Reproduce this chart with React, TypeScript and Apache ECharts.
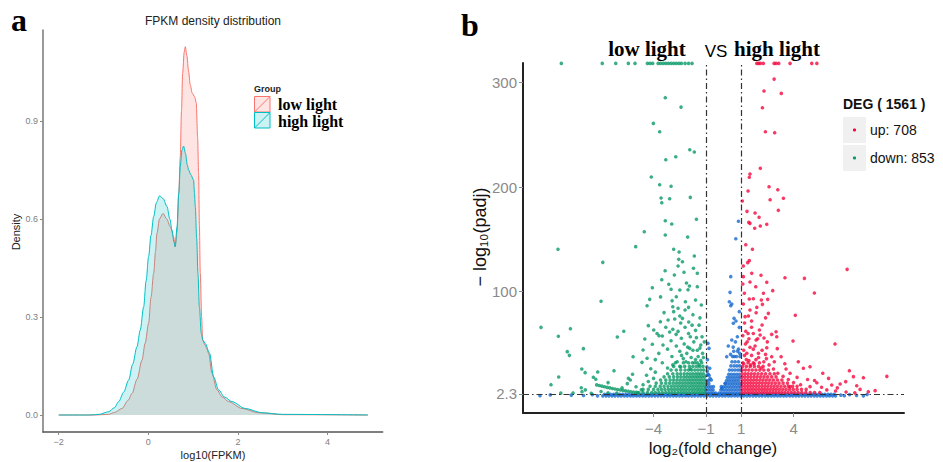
import React, { useEffect, useRef } from "react";
import * as echarts from "echarts";

// ---------- Panel a: FPKM density ----------
const lowLight: [number, number][] = [
  [-2, 0], [-1.2, 0], [-0.885, 0.002], [-0.75, 0.008], [-0.587, 0.02], [-0.45, 0.045], [-0.364, 0.066],
  [-0.25, 0.11], [-0.141, 0.168], [-0.07, 0.22], [0.007, 0.281], [0.06, 0.36], [0.12, 0.434], [0.16, 0.5],
  [0.193, 0.556], [0.25, 0.6], [0.327, 0.617], [0.41, 0.6], [0.49, 0.576], [0.565, 0.546], [0.6, 0.515],
  [0.64, 0.56], [0.68, 0.68], [0.713, 0.79], [0.74, 0.93], [0.766, 1.046], [0.8, 1.11], [0.825, 1.127],
  [0.86, 1.1], [0.9, 1.05], [0.936, 1.01], [0.98, 0.985], [1.033, 0.974], [1.07, 0.955], [1.1, 0.85],
  [1.122, 0.74], [1.14, 0.58], [1.159, 0.434], [1.19, 0.3], [1.211, 0.23], [1.26, 0.215], [1.3, 0.205],
  [1.345, 0.189], [1.42, 0.128], [1.53, 0.077], [1.65, 0.055], [1.79, 0.041], [2.09, 0.02], [2.46, 0.007],
  [3.0, 0.001], [4.9, 0],
];
const highLight: [number, number][] = [
  [-2, 0], [-1.3, 0], [-1.1, 0.002], [-0.885, 0.01], [-0.76, 0.022], [-0.66, 0.041], [-0.55, 0.07],
  [-0.438, 0.107], [-0.35, 0.155], [-0.253, 0.209], [-0.18, 0.26], [-0.104, 0.331], [-0.05, 0.41],
  [0.007, 0.485], [0.06, 0.55], [0.119, 0.607], [0.18, 0.65], [0.253, 0.671], [0.33, 0.662], [0.417, 0.638],
  [0.48, 0.6], [0.528, 0.566], [0.57, 0.53], [0.6, 0.515], [0.64, 0.576], [0.68, 0.68], [0.713, 0.76],
  [0.75, 0.81], [0.788, 0.823], [0.83, 0.8], [0.87, 0.765], [0.899, 0.75], [0.95, 0.735], [1.01, 0.719],
  [1.03, 0.68], [1.048, 0.638], [1.08, 0.54], [1.107, 0.434], [1.14, 0.33], [1.182, 0.25], [1.22, 0.228],
  [1.27, 0.219], [1.367, 0.189], [1.457, 0.117], [1.568, 0.077], [1.7, 0.055], [1.866, 0.041], [2.163, 0.02],
  [2.535, 0.007], [3.0, 0.002], [4.9, 0],
];
const densityXTicks = [-2, 0, 2, 4];
const densityYTicks = [0, 0.3, 0.6, 0.9];

// ---------- Panel b: volcano ----------
const volcanoXTicks = [-4, -1, 1, 4];
const volcanoYTicks = [2.3, 100, 200, 300];
const padjCap = 318.5;

const downTopX = [-9.27, -6.93, -6.16, -5.44, -5.06, -4.35, -4.2, -4.05, -3.74, -3.6, -3.45, -3.3, -3.15, -3.0,
  -2.85, -2.7, -2.55, -2.41, -2.2, -2.0, -1.8];
const downScatter: [number, number][] = [
  [-3.33, 285.7], [-2.43, 276.7], [-4.01, 261.1], [-3.65, 253.1], [-1.93, 235.9], [-1.67, 233.7], [-2.73, 229.2],
  [-3.3, 226.3], [-4.13, 209.8], [-3.65, 202.4], [-3.0, 200.9], [-3.57, 189.7], [-3.08, 189.0], [-1.9, 190.3],
  [-3.53, 185.2], [-3.33, 167.9], [-2.96, 164.8], [-1.55, 169.3], [-4.53, 157.4], [-3.33, 154.3], [-2.05, 152.3],
  [-9.46, 140.6], [-5.02, 143.1], [-6.9, 128.1], [-2.85, 140.6], [-2.54, 138.0], [-1.67, 134.2], [-2.56, 131.0],
  [-2.35, 128.7], [-2.6, 124.6], [-1.72, 122.4], [-3.34, 120.1], [-2.26, 118.6], [-1.5, 117.6], [-2.81, 116.0],
  [-3.53, 111.5], [-2.12, 108.3], [-3.13, 107.1], [-1.95, 105.5], [-1.5, 104.8], [-4.07, 103.8], [-2.03, 101.9],
  [-3.0, 102.3], [-2.5, 101.6], [-7.0, 90.8], [-4.22, 92.7], [-4.37, 86.6], [-2.7, 95.2], [-2.94, 91.4],
  [-2.18, 90.4], [-1.27, 87.3], [-2.9, 85.6], [-2.6, 84.1], [-2.2, 82.5], [-2.85, 80.9], [-2.5, 76.7],
  [-3.17, 72.9], [-2.79, 73.9], [-2.35, 74.5], [-3.61, 71.3], [-1.99, 71.0], [-10.43, 65.9], [-8.75, 64.6],
  [-4.3, 67.5], [-5.7, 62.1], [-3.08, 61.4], [-3.99, 63.3], [-9.44, 57.3], [-6.07, 56.6], [-3.69, 57.9],
  [-3.5, 57.6], [-2.71, 59.2], [-4.5, 54.7], [-2.41, 55.4], [-1.9, 56.9], [-1.23, 56.9], [-8.01, 45.5],
  [-8.93, 42.6], [-8.81, 39.1], [-5.17, 37.8], [-4.6, 44.2], [-4.07, 49.7], [-3.46, 49.0], [-2.7, 48.0],
  [-1.93, 45.8], [-4.37, 36.3], [-4.66, 32.4], [-8.1, 26.0], [-7.91, 22.5], [-7.19, 23.2], [-6.26, 24.4],
  [-4.16, 26.3], [-9.42, 18.4], [-9.86, 11.0], [-7.44, 18.1], [-7.3, 16.2], [-5.44, 17.1], [-5.33, 15.5],
  [-8.13, 8.1], [-8.09, 4.3], [-7.56, 2.8],
  [-3.3, 66], [-2.9, 64], [-2.2, 66], [-1.6, 63], [-1.4, 68], [-3.8, 60], [-2.0, 60], [-1.7, 52], [-2.25, 50],
  [-3.0, 53], [-3.2, 45], [-2.5, 43], [-2.1, 41], [-1.5, 44], [-1.3, 49], [-3.7, 41], [-3.9, 35], [-2.95, 38],
  [-2.3, 36], [-1.85, 37], [-1.45, 38], [-1.2, 41], [-3.5, 32], [-2.65, 33], [-1.65, 32], [-1.3, 34],
  [-7.9, 6], [-7.0, 4.5], [-6.6, 3.2], [-6.1, 3.0], [-5.8, 8], [-5.5, 12], [-5.0, 9], [-4.7, 6], [-4.6, 11],
  [-4.3, 14], [-4.0, 17], [-4.4, 20], [-3.9, 23], [-5.2, 21], [-6.6, 13], [-8.6, 3.1], [-9.3, 2.9],
  [-2.05, 47], [-1.75, 44], [-1.35, 46], [-2.4, 39], [-1.6, 35], [-1.15, 37], [-2.9, 30], [-2.45, 28],
  [-1.4, 30], [-3.2, 27], [-1.9, 26], [-2.15, 33], [-1.1, 52], [-1.55, 56], [-2.6, 62], [-1.8, 68], [-2.45, 70],
  [-1.35, 75], [-1.75, 78], [-3.4, 80], [-2.0, 85], [-1.6, 92], [-3.6, 95],
];
const downArc: [number, number][] = [
  [-7.25, 10.8], [-7.1, 10.2], [-6.95, 9.6], [-6.8, 9.0], [-6.65, 8.4], [-6.5, 7.9], [-6.35, 7.4], [-6.2, 6.9],
  [-6.05, 6.4], [-5.9, 5.9], [-5.75, 5.5], [-5.6, 5.1], [-5.45, 4.7], [-5.3, 4.3], [-5.15, 4.0], [-5.0, 3.6],
  [-4.85, 3.3],
];
const downDenseRows: [number, number[]][] = [
  [3.5, [-4.9, -4.6, -4.35, -4.1, -3.9, -3.7, -3.5, -3.3, -3.12, -2.95, -2.78, -2.6, -2.44, -2.28, -2.12, -1.96, -1.8, -1.65, -1.5, -1.36, -1.22, -1.08]],
  [6.5, [-4.6, -4.3, -4.0, -3.75, -3.55, -3.35, -3.15, -2.97, -2.8, -2.63, -2.46, -2.3, -2.14, -1.98, -1.82, -1.67, -1.52, -1.38, -1.24, -1.09]],
  [9.5, [-4.2, -3.9, -3.62, -3.4, -3.18, -2.98, -2.8, -2.62, -2.45, -2.29, -2.13, -1.97, -1.82, -1.67, -1.52, -1.38, -1.23, -1.08]],
  [12.5, [-3.85, -3.55, -3.3, -3.08, -2.88, -2.7, -2.53, -2.36, -2.2, -2.04, -1.88, -1.73, -1.58, -1.43, -1.29, -1.15]],
  [15.5, [-3.6, -3.3, -3.05, -2.85, -2.66, -2.48, -2.31, -2.15, -1.99, -1.84, -1.69, -1.54, -1.4, -1.26, -1.1]],
  [18.5, [-3.4, -3.1, -2.85, -2.63, -2.44, -2.26, -2.1, -1.94, -1.79, -1.64, -1.5, -1.36, -1.22, -1.08]],
  [21.5, [-3.2, -2.9, -2.65, -2.45, -2.25, -2.07, -1.9, -1.74, -1.58, -1.44, -1.3, -1.15]],
  [25, [-3.0, -2.7, -2.45, -2.2, -2.0, -1.82, -1.64, -1.47, -1.3, -1.14]],
  [28.5, [-2.85, -2.5, -2.22, -1.95, -1.75, -1.55, -1.37, -1.18]],
  [32, [-2.75, -2.3, -2.0, -1.78, -1.5, -1.25]],
];

const upTopX = [1.9, 2.0, 2.1, 2.27, 2.89, 3.0, 3.15, 3.8, 5.04, 5.33];
const upScatter: [number, number][] = [
  [2.89, 303.5], [2.31, 292.1], [3.3, 289.8], [2.22, 276.1], [2.39, 253.1], [2.92, 252.2], [2.1, 218.1],
  [1.51, 212.6], [1.47, 209.5], [2.6, 200.5], [3.1, 197.6], [1.4, 196.4], [2.66, 188.0], [3.42, 189.4],
  [1.07, 186.8], [3.13, 177.9], [1.34, 176.9], [1.8, 175.3], [2.03, 171.2], [1.44, 166.4], [1.51, 165.4],
  [2.1, 162.9], [2.47, 164.5], [1.78, 160.7],
  [1.27, 145.0], [1.65, 140.6], [1.47, 129.7], [1.38, 127.8], [1.13, 124.6], [1.61, 117.6], [2.14, 115.7],
  [3.51, 113.4], [4.62, 112.8], [7.06, 121.4], [1.13, 114.4], [1.51, 109.3], [2.47, 109.0], [1.84, 104.8],
  [1.1, 107.4], [2.81, 101.0], [5.19, 98.8], [1.19, 98.5], [2.28, 98.5], [1.47, 93.0], [1.7, 93.3],
  [2.16, 92.1], [2.52, 92.7], [1.13, 88.2], [2.22, 87.9], [1.51, 82.5], [1.86, 79.9], [2.56, 79.3],
  [4.1, 77.4], [1.23, 76.1], [1.42, 76.7], [2.2, 68.1], [3.0, 61.7], [2.05, 63.3], [1.27, 62.1], [2.75, 59.2],
  [2.09, 58.6], [2.31, 55.7], [3.04, 56.9], [1.86, 53.8], [3.97, 52.8], [6.37, 50.0], [1.51, 46.8],
  [2.47, 46.4], [3.07, 45.5], [1.33, 41.1], [1.99, 41.1], [2.75, 37.8], [3.29, 37.8], [4.27, 33.0],
  [4.94, 28.2], [3.57, 26.0], [4.56, 26.7], [5.67, 21.9], [7.19, 24.4], [9.33, 19.0], [7.99, 17.7],
  [7.42, 18.7], [6.98, 13.9], [6.66, 11.7], [6.18, 10.7], [7.61, 10.0], [8.66, 5.3], [8.27, 4.3], [5.33, 12.9],
  [4.94, 9.1], [3.8, 9.1],
  [1.2, 70], [1.6, 66], [1.1, 58], [1.45, 55], [1.7, 60], [2.5, 52], [1.25, 50], [1.8, 48], [2.2, 44],
  [1.15, 44], [1.6, 39], [2.4, 40], [1.3, 35], [1.85, 35], [2.3, 33], [2.9, 33], [3.5, 31], [1.15, 31],
  [1.55, 30], [3.8, 22], [4.2, 18], [4.8, 16], [5.2, 15], [6.0, 17], [5.9, 6], [6.4, 5], [7.0, 4], [7.5, 3.2],
  [7.8, 6.5], [5.6, 8.5], [6.5, 8],
  [1.35, 52], [1.7, 45], [2.0, 37], [2.6, 30], [1.2, 39], [1.45, 34], [2.15, 27], [2.85, 26], [3.1, 22],
  [3.4, 19], [3.7, 16], [4.0, 13], [4.4, 11], [1.75, 31], [2.45, 36], [1.95, 55], [1.4, 60], [1.6, 72],
  [2.4, 75], [1.9, 85],
];
const upDenseRows: [number, number[]][] = [
  [3.5, [1.06, 1.22, 1.38, 1.54, 1.7, 1.86, 2.02, 2.18, 2.34, 2.5, 2.66, 2.82, 2.98, 3.15, 3.32, 3.5, 3.68, 3.87, 4.06, 4.26, 4.47, 4.7, 4.95, 5.2, 5.5]],
  [6.5, [1.06, 1.22, 1.38, 1.54, 1.7, 1.86, 2.02, 2.18, 2.34, 2.5, 2.67, 2.84, 3.01, 3.19, 3.38, 3.57, 3.77, 3.98, 4.2, 4.45, 4.72]],
  [9.5, [1.06, 1.22, 1.38, 1.54, 1.7, 1.86, 2.02, 2.19, 2.36, 2.53, 2.71, 2.89, 3.08, 3.28, 3.49, 3.7, 3.95, 4.2]],
  [12.5, [1.06, 1.22, 1.38, 1.54, 1.7, 1.87, 2.04, 2.21, 2.39, 2.57, 2.76, 2.96, 3.17, 3.4, 3.65]],
  [15.5, [1.06, 1.22, 1.38, 1.55, 1.72, 1.89, 2.07, 2.25, 2.44, 2.64, 2.85, 3.08, 3.33]],
  [18.5, [1.06, 1.22, 1.39, 1.56, 1.74, 1.92, 2.11, 2.31, 2.52, 2.75, 3.0]],
  [21.5, [1.06, 1.23, 1.4, 1.58, 1.77, 1.97, 2.18, 2.4, 2.65, 2.9]],
  [25, [1.07, 1.25, 1.44, 1.64, 1.85, 2.07, 2.3, 2.56]],
  [28.5, [1.08, 1.3, 1.52, 1.76, 2.0, 2.26]],
  [32, [1.1, 1.4, 1.7, 2.05]],
];

const nsScatter: [number, number][] = [
  [0.85, 167.4], [0.7, 150.7], [0.41, 114.4], [0.37, 99.4], [0.33, 90.4], [0.47, 88.2], [0.41, 86.6],
  [0.9, 80.9], [0.6, 74.5], [0.71, 72.0], [0.56, 69.8], [0.9, 65.9], [0.79, 56.9], [0.47, 53.8], [0.68, 52],
  [0.27, 48.0], [0.55, 47], [0.85, 45], [0.18, 37.8], [0.4, 40], [0.62, 38], [0.92, 41], [-0.89, 50.6],
  [-0.83, 45.8], [-0.79, 26.7], [-0.7, 15.5], [-0.77, 17.1], [-0.58, 9.1], [0.09, 12.3], [-0.1, 7.6],
  [-0.13, 9.1], [-0.92, 35], [-0.95, 28], [-0.88, 21],
  [-10.49, 0.5], [-9.9, 1.2], [-8.7, 1.0], [-8.0, 0.6], [-7.5, 1.5], [-7.2, 0.3], [6.7, 1.0], [6.9, 0.4],
  [7.2, 1.5], [7.6, 0.8], [7.99, 0.3], [8.2, 1.6],
];
const nsDenseRows: [number, number[]][] = [
  [3, [-1.0, -0.86, -0.72, -0.58, -0.45, -0.25, -0.1, 0.05, 0.2, 0.35, 0.5, 0.65, 0.8, 0.95]],
  [6, [-1.0, -0.86, -0.72, -0.6, -0.15, 0.0, 0.15, 0.3, 0.45, 0.6, 0.75, 0.9]],
  [9, [-0.99, -0.85, -0.72, 0.0, 0.13, 0.27, 0.41, 0.55, 0.69, 0.83, 0.96]],
  [12, [-0.98, -0.84, 0.1, 0.24, 0.38, 0.52, 0.66, 0.8, 0.94]],
  [15, [-0.97, -0.84, 0.17, 0.31, 0.45, 0.59, 0.73, 0.87]],
  [18, [0.22, 0.37, 0.52, 0.67, 0.82, 0.96]],
  [20, [-0.95, -0.83]],
  [21, [0.3, 0.45, 0.6, 0.75, 0.9]],
  [24, [-0.93]],
  [25, [0.34, 0.5, 0.66, 0.82, 0.96]],
  [29, [0.42, 0.6, 0.76, 0.92]],
  [33, [0.48, 0.66, 0.85]],
  [38, [0.52, 0.74, 0.94]],
  [43, [0.58, 0.8]],
  [0.3, [-6.9, -6.72, -6.55, -6.37, -6.2, -6.02, -5.85, -5.67, -5.5, -5.32, -5.15, -4.97, -4.8, -4.62, -4.45, -4.27, -4.1, -3.92, -3.75, -3.57, -3.4, -3.22, -3.05, -2.87, -2.7, -2.52, -2.35, -2.17, -2.0, -1.82, -1.65, -1.47, -1.3, -1.12, -0.95, -0.77, -0.6, -0.42, -0.25, -0.07, 0.1, 0.28, 0.45, 0.63, 0.8, 0.98, 1.15, 1.33, 1.5, 1.68, 1.85, 2.03, 2.2, 2.38, 2.55, 2.73, 2.9, 3.08, 3.25, 3.43, 3.6, 3.78, 3.95, 4.13, 4.3, 4.48, 4.65, 4.83, 5.0, 5.18, 5.35, 5.53, 5.7, 5.88, 6.05, 6.23, 6.4]],
  [1.9, [-6.8, -6.63, -6.46, -6.28, -6.11, -5.93, -5.76, -5.58, -5.41, -5.23, -5.06, -4.88, -4.71, -4.53, -4.36, -4.18, -4.01, -3.83, -3.66, -3.48, -3.31, -3.13, -2.96, -2.78, -2.61, -2.43, -2.26, -2.08, -1.91, -1.73, -1.56, -1.38, -1.21, -1.03, -0.86, -0.68, -0.51, -0.33, -0.16, 0.02, 0.19, 0.37, 0.54, 0.72, 0.89, 1.07, 1.24, 1.42, 1.59, 1.77, 1.94, 2.12, 2.29, 2.47, 2.64, 2.82, 2.99, 3.17, 3.34, 3.52, 3.69, 3.87, 4.04, 4.22, 4.39, 4.57, 4.74, 4.92, 5.09, 5.27, 5.44, 5.62, 5.79, 5.97, 6.14, 6.32]],
];

const upCount = 708;
const downCount = 853;

const SANS = '"Liberation Sans", Arial, sans-serif';
const SERIF = '"Liberation Serif", "Times New Roman", serif';
const RED = "#F8766D";
const CYAN = "#00BFC4";
const UP = "#f5093f";
const DOWN = "#0a9a68";
const NS = "#1769d0";

function rowsToPts(rows: [number, number[]][]): [number, number][] {
  const out: [number, number][] = [];
  rows.forEach(([y, xs]) => xs.forEach((x) => out.push([x, y])));
  return out;
}
const fmtMinus = (v: number) => (v < 0 ? "\u2212" + Math.abs(v) : String(v));

function buildOption(): any {
  const downPts = [...downTopX.map((x) => [x, padjCap]), ...downScatter, ...downArc, ...rowsToPts(downDenseRows)];
  const upPts = [...upTopX.map((x) => [x, padjCap]), ...upScatter, ...rowsToPts(upDenseRows)];
  const nsPts = [...nsScatter, ...rowsToPts(nsDenseRows)];
  const dash = [6, 3, 1.5, 3];
  const ms = 3.6;
  return {
    animation: false,
    textStyle: { fontFamily: SANS },
    grid: [
      { left: 43, top: 30, width: 339.7, height: 402 },
      { left: 523, top: 63, width: 381, height: 350 },
    ],
    xAxis: [
      {
        gridIndex: 0, type: "value", min: -2.35, max: 5.23,
        splitLine: { show: false },
        axisLine: { onZero: false, lineStyle: { color: "#555", width: 1.5 } },
        axisTick: { customValues: densityXTicks, length: 3, lineStyle: { color: "#888" } },
        axisLabel: { customValues: densityXTicks, formatter: fmtMinus, fontSize: 9, color: "#808080", margin: 5, fontFamily: SANS },
      },
      {
        gridIndex: 1, type: "value", min: -11.46, max: 10.31,
        splitLine: { show: false },
        axisLine: { onZero: false, lineStyle: { color: "#222", width: 2 } },
        axisTick: { customValues: volcanoXTicks, length: 4, lineStyle: { color: "#8a8a8a" } },
        axisLabel: { customValues: volcanoXTicks, formatter: fmtMinus, fontSize: 15, color: "#8a8a8a", margin: 8, fontFamily: SANS },
      },
    ],
    yAxis: [
      {
        gridIndex: 0, type: "value", min: -0.052, max: 1.178,
        splitLine: { show: false },
        axisLine: { onZero: false, lineStyle: { color: "#777", width: 1.5 } },
        axisTick: { customValues: densityYTicks, length: 3, lineStyle: { color: "#888" } },
        axisLabel: { customValues: densityYTicks, formatter: (v: number) => v.toFixed(1), fontSize: 9, color: "#808080", margin: 5, fontFamily: SANS },
      },
      {
        gridIndex: 1, type: "value", min: -16.1, max: 318.9,
        splitLine: { show: false },
        axisLine: { onZero: false, lineStyle: { color: "#222", width: 2 } },
        axisTick: { customValues: volcanoYTicks, length: 4, lineStyle: { color: "#8a8a8a" } },
        axisLabel: { customValues: volcanoYTicks, formatter: (v: number) => String(v), fontSize: 15, color: "#8a8a8a", margin: 6, fontFamily: SANS },
      },
    ],
    series: [
      {
        type: "line", xAxisIndex: 0, yAxisIndex: 0, data: lowLight, showSymbol: false, smooth: 0.3, smoothMonotone: "x",
        lineStyle: { color: RED, width: 1 }, areaStyle: { color: RED, opacity: 0.2 }, z: 2,
      },
      {
        type: "line", xAxisIndex: 0, yAxisIndex: 0, data: highLight, showSymbol: false, smooth: 0.3, smoothMonotone: "x",
        lineStyle: { color: CYAN, width: 1 }, areaStyle: { color: CYAN, opacity: 0.2 }, z: 3,
      },
      {
        type: "scatter", xAxisIndex: 1, yAxisIndex: 1, data: nsPts, symbolSize: ms, clip: false,
        itemStyle: { color: NS }, z: 2,
      },
      {
        type: "scatter", xAxisIndex: 1, yAxisIndex: 1, data: downPts, symbolSize: ms, clip: false,
        itemStyle: { color: DOWN }, z: 3,
      },
      {
        type: "scatter", xAxisIndex: 1, yAxisIndex: 1, data: upPts, symbolSize: ms, clip: false,
        itemStyle: { color: UP }, z: 3,
      },
      {
        type: "scatter", xAxisIndex: 1, yAxisIndex: 1, data: [], z: 10,
        markLine: {
          silent: true, symbol: ["none", "none"], label: { show: false }, animation: false,
          lineStyle: { color: "#333", width: 1.2, type: dash },
          data: [{ xAxis: -1 }, { xAxis: 1 }, { yAxis: 2.3 }],
        },
      },
    ],
    graphic: [
      { type: "text", x: 11, y: 20, style: { text: "a", font: `bold 32px ${SERIF}`, fill: "#000", textAlign: "left", textVerticalAlign: "middle" } },
      { type: "text", x: 461, y: 25, style: { text: "b", font: `bold 32px ${SERIF}`, fill: "#000", textAlign: "left", textVerticalAlign: "middle" } },
      { type: "text", x: 213, y: 21, style: { text: "FPKM density distribution", font: `12px ${SANS}`, fill: "#222", textAlign: "center", textVerticalAlign: "middle" } },
      { type: "text", x: 16, y: 232, rotation: Math.PI / 2, style: { text: "Density", font: `11px ${SANS}`, fill: "#222", textAlign: "center", textVerticalAlign: "middle" } },
      { type: "text", x: 213, y: 455, style: { text: "log10(FPKM)", font: `11px ${SANS}`, fill: "#222", textAlign: "center", textVerticalAlign: "middle" } },
      { type: "text", x: 254, y: 89, style: { text: "Group", font: `bold 9px ${SANS}`, fill: "#222", textAlign: "left", textVerticalAlign: "middle" } },
      { type: "rect", shape: { x: 254.5, y: 96.5, width: 15.5, height: 15.5 }, style: { fill: "rgba(248,118,109,0.2)", stroke: RED, lineWidth: 1 } },
      { type: "line", shape: { x1: 254.5, y1: 112, x2: 270, y2: 96.5 }, style: { stroke: RED, lineWidth: 1 } },
      { type: "rect", shape: { x: 254.5, y: 112.5, width: 15.5, height: 15.5 }, style: { fill: "rgba(0,191,196,0.2)", stroke: CYAN, lineWidth: 1 } },
      { type: "line", shape: { x1: 254.5, y1: 128, x2: 270, y2: 112.5 }, style: { stroke: CYAN, lineWidth: 1 } },
      { type: "text", x: 278, y: 104, style: { text: "low light", font: `bold 16px ${SERIF}`, fill: "#000", textAlign: "left", textVerticalAlign: "middle" } },
      { type: "text", x: 278, y: 121, style: { text: "high light", font: `bold 16px ${SERIF}`, fill: "#000", textAlign: "left", textVerticalAlign: "middle" } },
      { type: "text", x: 647, y: 49, style: { text: "low light", font: `bold 21px ${SERIF}`, fill: "#000", textAlign: "center", textVerticalAlign: "middle" } },
      { type: "text", x: 716, y: 51, style: { text: "VS", font: `17px ${SANS}`, fill: "#000", textAlign: "center", textVerticalAlign: "middle" } },
      { type: "text", x: 777, y: 49, style: { text: "high light", font: `bold 21px ${SERIF}`, fill: "#000", textAlign: "center", textVerticalAlign: "middle" } },
      { type: "text", x: 480, y: 237, rotation: Math.PI / 2, style: { text: "\u2212 log\u2081\u2080(padj)", font: `18px ${SANS}`, fill: "#111", textAlign: "center", textVerticalAlign: "middle" } },
      { type: "text", x: 713, y: 448, style: { text: "log\u2082(fold change)", font: `17px ${SANS}`, fill: "#111", textAlign: "center", textVerticalAlign: "middle" } },
      { type: "text", x: 843, y: 104, style: { text: `DEG ( ${upCount + downCount} )`, font: `bold 14px ${SANS}`, fill: "#111", textAlign: "left", textVerticalAlign: "middle" } },
      { type: "rect", shape: { x: 843, y: 117, width: 23, height: 26 }, style: { fill: "#f0f0f0" } },
      { type: "rect", shape: { x: 843, y: 145, width: 23, height: 26 }, style: { fill: "#f0f0f0" } },
      { type: "circle", shape: { cx: 854.5, cy: 130, r: 1.6 }, style: { fill: UP } },
      { type: "circle", shape: { cx: 854.5, cy: 158, r: 1.6 }, style: { fill: DOWN } },
      { type: "text", x: 870, y: 130, style: { text: `up: ${upCount}`, font: `14px ${SANS}`, fill: "#111", textAlign: "left", textVerticalAlign: "middle" } },
      { type: "text", x: 870, y: 158, style: { text: `down: ${downCount}`, font: `14px ${SANS}`, fill: "#111", textAlign: "left", textVerticalAlign: "middle" } },
    ],
  };
}

export default function App() {
  const ref = useRef<HTMLDivElement>(null);
  useEffect(() => {
    document.body.style.margin = "0";
    const chart = echarts.init(ref.current!, null, { renderer: "svg" });
    chart.setOption(buildOption());
    return () => chart.dispose();
  }, []);
  return <div ref={ref} style={{ width: 943, height: 462 }} />;
}
